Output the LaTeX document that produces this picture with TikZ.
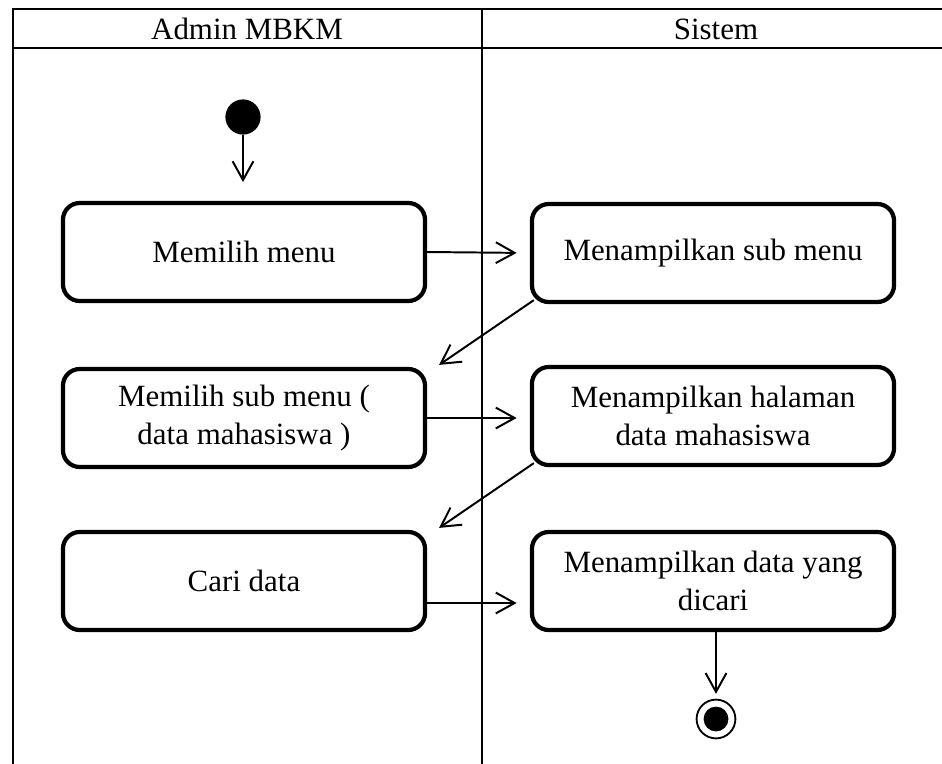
\documentclass[tikz,border=0pt]{standalone}
\usepackage{fontspec}
\setmainfont{Liberation Serif}
\usetikzlibrary{arrows.meta,calc}

\begin{document}
\begin{tikzpicture}[x=.025cm,y=-.025cm,
  lane/.style={line width=1.4pt,color=black},
  lanetitle/.style={font=\fontsize{22}{27}\selectfont},
  act/.style={draw,line width=3pt,rounded corners=.42cm,minimum width=9.05cm,
    minimum height=2.45cm,align=center,font=\fontsize{22}{27}\selectfont},
  flow/.style={line width=1.4pt,-{Straight Barb[length=.47cm,width=.52cm,line width=1.4pt]}},
  startnode/.style={circle,fill=black,minimum size=.88cm,inner sep=0pt},
  endnode/.style={circle,draw,line width=1.3pt,minimum size=.97cm,inner sep=0pt,
    path picture={\fill (path picture bounding box.center) circle (.31cm);}}]
\useasboundingbox (0,0) rectangle (942,764);

% swimlanes
\draw[lane] (13,780) -- (13,9) -- (960,9);
\draw[lane] (13,48) -- (960,48);
\draw[lane] (482,9) -- (482,780);
\node[lanetitle] (admin) at (247,29) {Admin MBKM};
\node[lanetitle] (sistem) at (716,29) {Sistem};

% activities
\node[startnode] (start) at (243,117) {};
\node[act] (b1) at (244,252) {Memilih menu};
\node[act] (b2) at (713,253) {Menampilkan sub menu};
\node[act] (b3) at (244,418) {Memilih sub menu (\\ data mahasiswa )};
\node[act] (b4) at (713,416) {Menampilkan halaman\\ data mahasiswa};
\node[act] (b5) at (244,581) {Cari data};
\node[act] (b6) at (713,581) {Menampilkan data yang\\ dicari};
\node[endnode] (end) at (716,719) {};

% transitions
\draw[flow,shorten >=.47cm] (start) -- (start|-b1.north);
\draw[flow,shorten >=.33cm] (b1.east) -- (b2.west);
\draw[flow] ([shift={(4,-4)}]b2.south west) -- ([shift={(12,-2)}]b3.north east);
\draw[flow,shorten >=.33cm] (b3.east) -- (b3.east-|b4.west);
\draw[flow] ([shift={(4,-4)}]b4.south west) -- ([shift={(12,-2)}]b5.north east);
\draw[flow,shorten >=.33cm] ([yshift=-.55cm]b5.east) -- ([yshift=-.55cm]b5.east-|b6.west);
\draw[flow,shorten >=.12cm] (b6.south-|end) -- (end.north);

\end{tikzpicture}
\end{document}
